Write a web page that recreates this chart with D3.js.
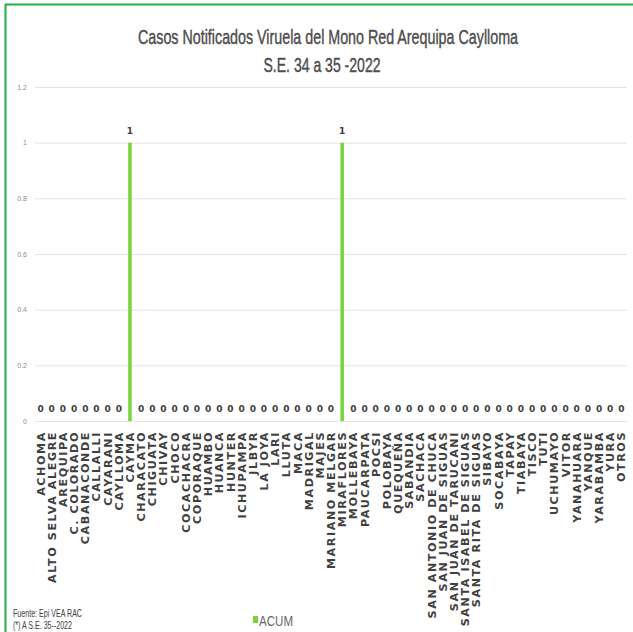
<!DOCTYPE html>
<html><head><meta charset="utf-8">
<script src="https://cdn.jsdelivr.net/npm/d3@7"></script>
<style>body{margin:0;background:#fff}svg{display:block}</style>
</head><body>
<script>
const categories = ["ACHOMA","ALTO SELVA ALEGRE","AREQUIPA","C. COLORADO","CABANACONDE","CALLALLI","CAYARANI","CAYLLOMA","CAYMA","CHARACATO","CHIGUATA","CHIVAY","CHOCO","COCACHACRA","COPORAQUE","HUAMBO","HUANCA","HUNTER","ICHUPAMPA","JLBYR","LA JOYA","LARI","LLUTA","MACA","MADRIGAL","MAJES","MARIANO MELGAR","MIRAFLORES","MOLLEBAYA","PAUCARPATA","POCSI","POLOBAYA","QUEQUEÑA","SABANDIA","SACHACA","SAN ANTONIO DE CHUCA","SAN JUAN DE SIGUAS","SAN JUAN DE TARUCANI","SANTA ISABEL DE SIGUAS","SANTA RITA DE SIGUAS","SIBAYO","SOCABAYA","TAPAY","TIABAYA","TISCO","TUTI","UCHUMAYO","VITOR","YANAHUARA","YANQUE","YARABAMBA","YURA","OTROS"];
const acum = [0,0,0,0,0,0,0,0,1,0,0,0,0,0,0,0,0,0,0,0,0,0,0,0,0,0,0,1,0,0,0,0,0,0,0,0,0,0,0,0,0,0,0,0,0,0,0,0,0,0,0,0,0];
const yTicks = [0,0.2,0.4,0.6,0.8,1,1.2];
const titleLines = ["Casos  Notificados Viruela del Mono Red Arequipa Caylloma","S.E. 34 a 35 -2022"];
const seriesName = "ACUM";
const notes = ["Fuente: Epi VEA RAC","(*) A S.E. 35--2022"];

const W = 633, H = 632;
const svg = d3.select("body").append("svg").attr("width", W).attr("height", H);
const narrow = "'Liberation Sans Narrow','Arial Narrow','Liberation Sans',sans-serif";

// frame
svg.append("line").attr("x1",5).attr("x2",W).attr("y1",4.5).attr("y2",4.5).attr("stroke","#1fb04c").attr("stroke-width",2);
svg.append("line").attr("x1",5.5).attr("x2",5.5).attr("y1",4).attr("y2",H).attr("stroke","#1fb04c").attr("stroke-width",2);

const m = {left:35, right:627, top:87, bottom:421};
const x = d3.scaleBand().domain(categories).range([m.left, m.right]).padding(0);
const y = d3.scaleLinear().domain([0,1.2]).range([m.bottom, m.top]);

// grid
svg.append("g").selectAll("line").data(yTicks).join("line")
  .attr("x1", m.left).attr("x2", m.right)
  .attr("y1", d=>y(d)+0.5).attr("y2", d=>y(d)+0.5)
  .attr("stroke","#e3e3e3").attr("stroke-width",1);

// y axis labels
const yAxis = d3.axisLeft(y).tickValues(yTicks).tickSize(0).tickPadding(0).tickFormat(d=>String(d));
const gy = svg.append("g").attr("transform",`translate(27,0)`).call(yAxis);
gy.select(".domain").remove();
gy.selectAll("text").attr("fill","#8a8a8a").style("font-family",narrow).style("font-size","7px");

// x axis labels
const xAxis = d3.axisBottom(x).tickSize(0).tickPadding(0);
const gx = svg.append("g").attr("transform",`translate(0,${m.bottom})`).call(xAxis);
gx.select(".domain").remove();
gx.selectAll("text")
  .attr("transform","rotate(-90)")
  .attr("x",-10).attr("y",0).attr("dy","0.36em")
  .attr("text-anchor","end")
  .attr("fill","#404040")
  .style("font-family","'DejaVu Sans',sans-serif").style("font-weight","bold")
  .style("font-size","11.2px").style("letter-spacing","1.55px");

// bars
const bw = 3.5;
svg.append("g").selectAll("rect").data(acum).join("rect")
  .attr("x",(d,i)=>x(categories[i])+x.bandwidth()/2-bw/2)
  .attr("width",bw)
  .attr("y",d=>y(d)).attr("height",d=>y(0)-y(d))
  .attr("fill","#78d43a");

// value labels
svg.append("g").selectAll("text").data(acum).join("text")
  .attr("x",(d,i)=>x(categories[i])+x.bandwidth()/2)
  .attr("y",d=> d===0 ? 412 : y(d)-9)
  .attr("text-anchor","middle")
  .attr("fill","#404040")
  .style("font-family","'DejaVu Sans',sans-serif").style("font-weight","bold")
  .style("font-size","9px")
  .text(d=>d);

// title
svg.append("text").attr("transform","translate(328,44) scale(1,1.18)").attr("text-anchor","middle")
  .attr("fill","#4d4d4d").attr("stroke","#4d4d4d").attr("stroke-width",0.35)
  .style("font-family",narrow).style("font-size","17.5px")
  .attr("textLength",380).attr("lengthAdjust","spacingAndGlyphs")
  .text(titleLines[0]);
svg.append("text").attr("transform","translate(322,72) scale(1,1.18)").attr("text-anchor","middle")
  .attr("fill","#4d4d4d").attr("stroke","#4d4d4d").attr("stroke-width",0.35)
  .style("font-family",narrow).style("font-size","17.5px")
  .attr("textLength",117).attr("lengthAdjust","spacingAndGlyphs")
  .text(titleLines[1]);

// legend
svg.append("rect").attr("x",253).attr("y",616).attr("width",5).attr("height",7).attr("fill","#78d43a");
svg.append("text").attr("x",259).attr("y",626).attr("fill","#666")
  .style("font-family",narrow).style("font-size","15px")
  .attr("textLength",34).attr("lengthAdjust","spacingAndGlyphs").text(seriesName);

// notes
svg.append("text").attr("x",13).attr("y",617).attr("fill","#404040")
  .style("font-family",narrow).style("font-size","10.5px")
  .attr("textLength",69).attr("lengthAdjust","spacingAndGlyphs").text(notes[0]);
svg.append("text").attr("x",13).attr("y",629).attr("fill","#404040")
  .style("font-family",narrow).style("font-size","10.5px")
  .attr("textLength",59).attr("lengthAdjust","spacingAndGlyphs").text(notes[1]);
</script>
</body></html>
